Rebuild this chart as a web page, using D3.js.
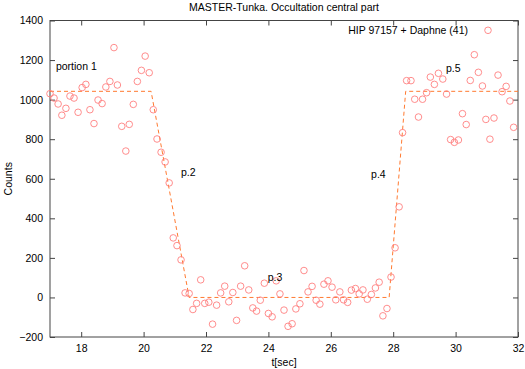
<!DOCTYPE html>
<html>
<head>
<meta charset="utf-8">
<script src="https://cdn.jsdelivr.net/npm/d3@7"></script>
<style>
  body { margin: 0; background: #fff; }
  svg text { font-family: "Liberation Sans", Arial, sans-serif; fill: #000; }
</style>
</head>
<body>
<div id="chart"></div>
<script>
const times = [
  17.00, 17.13, 17.26, 17.38, 17.51, 17.64, 17.77, 17.90, 18.03, 18.15,
  18.28, 18.41, 18.54, 18.67, 18.79, 18.92, 19.05, 19.16, 19.30, 19.43,
  19.54, 19.67, 19.80, 19.93, 20.05, 20.18, 20.31, 20.43, 20.56, 20.69,
  20.82, 20.95, 21.07, 21.20, 21.33, 21.46, 21.58, 21.70, 21.83, 21.96,
  22.09, 22.21, 22.34, 22.47, 22.60, 22.73, 22.86, 22.98, 23.11, 23.24,
  23.37, 23.50, 23.62, 23.74, 23.87, 24.00, 24.12, 24.25, 24.37, 24.50,
  24.63, 24.76, 24.88, 25.01, 25.14, 25.27, 25.40, 25.53, 25.65, 25.78,
  25.91, 26.04, 26.16, 26.29, 26.41, 26.54, 26.66, 26.79, 26.91, 27.03,
  27.17, 27.30, 27.43, 27.55, 27.67, 27.80, 27.93, 28.06, 28.19, 28.30,
  28.43, 28.57, 28.69, 28.81, 28.94, 29.07, 29.19, 29.32, 29.45, 29.59,
  29.71, 29.84, 29.96, 30.09, 30.22, 30.34, 30.47, 30.60, 30.73, 30.86,
  30.97, 31.10, 31.23, 31.36, 31.49, 31.62, 31.74, 31.86
];
const counts = [
  1030, 1008, 978, 921, 956, 1018, 1008, 936, 1061, 1077,
  949, 879, 998, 980, 1064, 1092, 1263, 1074, 865, 740,
  875, 976, 1092, 1148, 1220, 1136, 949, 801, 734, 685,
  579, 301, 262, 190, 23, 20, -61, -30, 89, -30,
  -24, -135, -39, 23, 57, -22, 25, -116, 57, 160,
  38, -53, -69, -14, 72, -81, -98, 84, 18, -64,
  -146, -133, -58, -32, 136, 28, 56, -14, -34, 67,
  84, 52, -12, 28, -12, -25, 37, 45, 18, 38,
  -9, 15, 48, 77, -93, -56, 103, 251, 458, 833,
  1096, 1096, 1002, 912, 1002, 1035, 1114, 1077, 1133, 1104,
  1028, 798, 784, 796, 929, 874, 1097, 1227, 1138, 1069,
  900, 800, 907, 1124, 1040, 1067, 993, 860
];

// piecewise model (dashed line)
const modelT = [17, 20.24, 21.46, 27.87, 28.40, 32];
const modelC = [1042, 1042, 0, 0, 1042, 1042];

const xTicks = [18, 20, 22, 24, 26, 28, 30, 32];
const yTicks = [-200, 0, 200, 400, 600, 800, 1000, 1200, 1400];

const labels = [
  { text: 'portion 1', t: 17.19, c: 1150 },
  { text: 'p.2', t: 21.20, c: 615 },
  { text: 'p.3', t: 23.98, c: 85 },
  { text: 'p.4', t: 27.29, c: 605 },
  { text: 'p.5', t: 29.69, c: 1140 }
];

const W = 525, H = 369;
const m = { left: 50, right: 7, top: 20.5, bottom: 32 };

const svg = d3.select('#chart').append('svg')
  .attr('width', W)
  .attr('height', H);

const x = d3.scaleLinear().domain([17, 32]).range([m.left, W - m.right]);
const y = d3.scaleLinear().domain([-200, 1400]).range([H - m.bottom, m.top]);

// title
svg.append('text')
  .attr('x', (m.left + W - m.right) / 2)
  .attr('y', 11)
  .attr('text-anchor', 'middle')
  .attr('font-size', 10.5)
  .text('MASTER-Tunka. Occultation central part');

// axes, gnuplot style: ticks pointing inward, mirrored
const tickLen = 5;
const axisStyle = g => {
  g.select('.domain').remove();
  g.selectAll('line').attr('stroke', '#444');
  g.selectAll('text').attr('font-size', 10.5);
};

svg.append('g')
  .attr('transform', `translate(0,${y(-200)})`)
  .call(d3.axisBottom(x).tickValues(xTicks).tickSize(-tickLen).tickPadding(8).tickFormat(d3.format('d')))
  .call(axisStyle);

svg.append('g')
  .attr('transform', `translate(0,${y(1400)})`)
  .call(d3.axisTop(x).tickValues(xTicks).tickSize(-tickLen).tickFormat(''))
  .call(axisStyle);

svg.append('g')
  .attr('transform', `translate(${x(17)},0)`)
  .call(d3.axisLeft(y).tickValues(yTicks).tickSize(-tickLen).tickPadding(7).tickFormat(d3.format('d')))
  .call(axisStyle);

svg.append('g')
  .attr('transform', `translate(${x(32)},0)`)
  .call(d3.axisRight(y).tickValues(yTicks).tickSize(-tickLen).tickFormat(''))
  .call(axisStyle);

// frame
svg.append('rect')
  .attr('x', x(17))
  .attr('y', y(1400))
  .attr('width', x(32) - x(17))
  .attr('height', y(-200) - y(1400))
  .attr('fill', 'none')
  .attr('stroke', '#444')
  .attr('stroke-width', 1);

// axis titles
svg.append('text')
  .attr('x', (x(17) + x(32)) / 2)
  .attr('y', 366)
  .attr('text-anchor', 'middle')
  .attr('font-size', 10.5)
  .text('t[sec]');

svg.append('text')
  .attr('transform', `translate(12,${(y(-200) + y(1400)) / 2}) rotate(-90)`)
  .attr('text-anchor', 'middle')
  .attr('font-size', 10.5)
  .text('Counts');

// model line
const model = modelT.map((t, i) => ({ t: t, c: modelC[i] }));
svg.append('path')
  .datum(model)
  .attr('d', d3.line().x(d => x(d.t)).y(d => y(d.c)))
  .attr('fill', 'none')
  .attr('stroke', '#ff7a30')
  .attr('stroke-width', 1)
  .attr('stroke-dasharray', '4,3');

// data points
const pts = times.map((t, i) => ({ t: t, c: counts[i] }));
svg.append('g')
  .selectAll('circle')
  .data(pts)
  .join('circle')
  .attr('cx', d => x(d.t))
  .attr('cy', d => y(d.c))
  .attr('r', 3.3)
  .attr('fill', 'none')
  .attr('stroke', '#ff8080')
  .attr('stroke-width', 0.9);

// segment labels
svg.append('g')
  .selectAll('text')
  .data(labels)
  .join('text')
  .attr('x', d => x(d.t))
  .attr('y', d => y(d.c))
  .attr('font-size', 10.5)
  .text(d => d.text);

// key
svg.append('text')
  .attr('x', 468)
  .attr('y', 34)
  .attr('text-anchor', 'end')
  .attr('font-size', 10.5)
  .text('HIP 97157 + Daphne (41)');

svg.append('circle')
  .attr('cx', 488)
  .attr('cy', 30.3)
  .attr('r', 3.3)
  .attr('fill', 'none')
  .attr('stroke', '#ff8080')
  .attr('stroke-width', 0.9);
</script>
</body>
</html>
